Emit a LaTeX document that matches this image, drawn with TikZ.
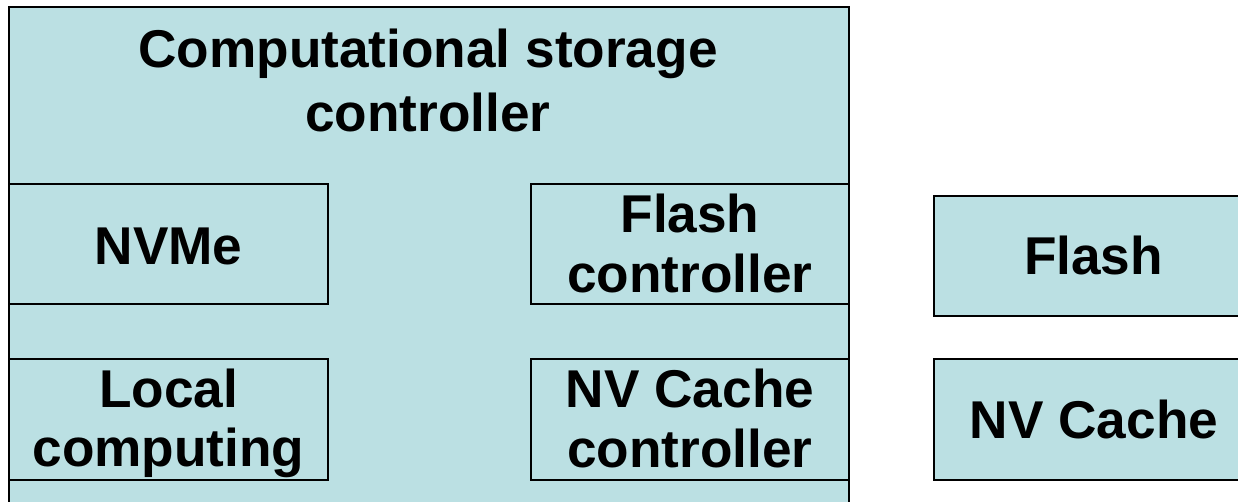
\documentclass[tikz,border=0pt]{standalone}
\usepackage{fontspec}
\setmainfont{Liberation Sans}
\definecolor{boxfill}{RGB}{187,224,227}
\begin{document}
\begin{tikzpicture}[x=1pt,y=-1pt,
  blk/.style={draw=black,fill=boxfill,line width=1.6pt,inner sep=0pt,outer sep=0pt},
  lbl/.style={anchor=base,inner sep=0pt,font=\fontsize{53.2}{60}\selectfont\bfseries}]
\useasboundingbox (0,0) rectangle (1238,502);
\clip (0,0) rectangle (1238,502);
% main controller box (bottom runs past the picture edge)
\node[blk,minimum width=840pt,minimum height=523pt] (main) at (429,268.5) {};
% inner boxes
\node[blk,minimum width=319pt,minimum height=120pt] (nvme) at (168.5,244) {};
\node[blk,minimum width=319pt,minimum height=121pt] (local) at (168.5,419.5) {};
\node[blk,minimum width=318pt,minimum height=120pt] (fctl) at (690,244) {};
\node[blk,minimum width=318pt,minimum height=121pt] (nvctl) at (690,419.5) {};
% outside boxes
\node[blk,minimum width=319pt,minimum height=120pt] (flash) at (1093.5,256) {};
\node[blk,minimum width=319pt,minimum height=121pt] (nvc) at (1093.5,419.5) {};
% texts
\node[lbl] (t1) at (428,68) {Computational storage};
\node[lbl] (t2) at (428,132) {controller};
\node[lbl] (tnvme) at (168.5,265) {NVMe};
\node[lbl] (tlocal1) at (168.5,407) {Local};
\node[lbl] (tlocal2) at (168.5,466) {computing};
\node[lbl] (tfctl1) at (690,233) {Flash};
\node[lbl] (tfctl2) at (690,293) {controller};
\node[lbl] (tnvctl1) at (690,407) {NV Cache};
\node[lbl] (tnvctl2) at (690,467) {controller};
\node[lbl] (tflash) at (1093.5,275) {Flash};
\node[lbl] (tnvc) at (1094,438) {NV Cache};
\end{tikzpicture}
\end{document}
